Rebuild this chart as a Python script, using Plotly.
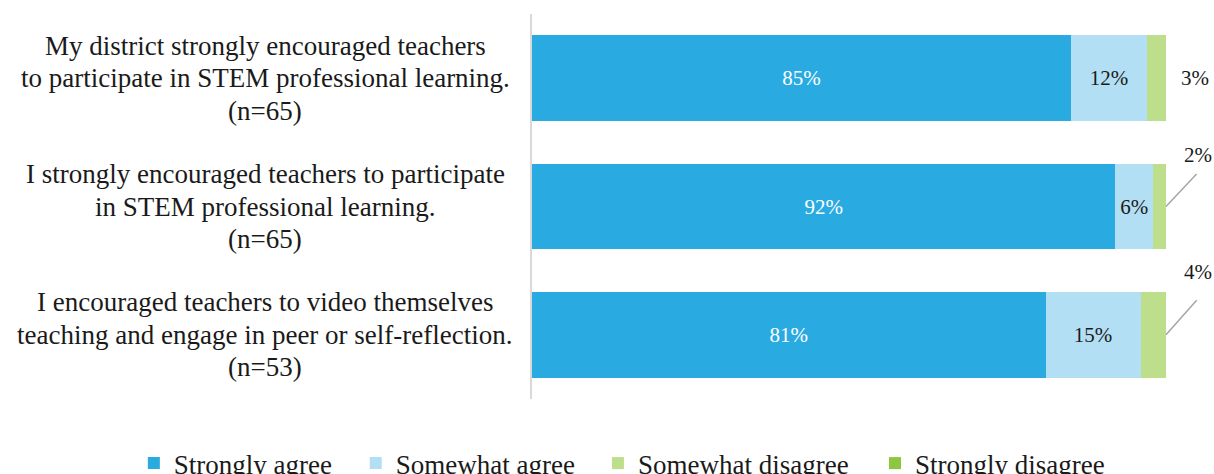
import plotly.graph_objects as go

# Survey statements (one entry per text line) and response shares (percent)
statements = [
    ["My district strongly encouraged teachers",
     "to participate in STEM professional learning.",
     "(n=65)"],
    ["I strongly encouraged teachers to participate",
     "in STEM professional learning.",
     "(n=65)"],
    ["I encouraged teachers to video themselves",
     "teaching and engage in peer or self-reflection.",
     "(n=53)"],
]
cat_ids = ["q1", "q2", "q3"]

strongly_agree = [85, 92, 81]
somewhat_agree = [12, 6, 15]
somewhat_disagree = [3, 2, 4]
strongly_disagree = [0, 0, 0]

series_names = ["Strongly agree", "Somewhat agree", "Somewhat disagree", "Strongly disagree"]
series_colors = ["#29ABE2", "#B3DFF4", "#BDDF8C", "#8DC63F"]

FONT = "Liberation Serif, Tinos, 'Times New Roman', 'DejaVu Serif', serif"
INK = "#1a1a1a"
LEADER = "#A6A6A6"

legend_ids = ["legend", "legend2", "legend3", "legend4"]

fig = go.Figure()

fig.add_trace(go.Bar(
    y=cat_ids, x=strongly_agree, orientation="h", name=series_names[0],
    marker=dict(color=series_colors[0], line=dict(width=0)),
    text=[f"{v}%" for v in strongly_agree], textposition="inside",
    insidetextanchor="middle", textangle=0,
    insidetextfont=dict(family=FONT, size=21, color="white"),
    legend=legend_ids[0],
))
fig.add_trace(go.Bar(
    y=cat_ids, x=somewhat_agree, orientation="h", name=series_names[1],
    marker=dict(color=series_colors[1], line=dict(width=0)),
    text=[f"{v}%" for v in somewhat_agree], textposition="inside",
    insidetextanchor="middle", textangle=0,
    insidetextfont=dict(family=FONT, size=21, color=INK),
    legend=legend_ids[1],
))
fig.add_trace(go.Bar(
    y=cat_ids, x=somewhat_disagree, orientation="h", name=series_names[2],
    marker=dict(color=series_colors[2], line=dict(width=0)),
    textposition="none",
    legend=legend_ids[2],
))
fig.add_trace(go.Bar(
    y=cat_ids, x=strongly_disagree, orientation="h", name=series_names[3],
    marker=dict(color=series_colors[3], line=dict(width=0)),
    textposition="none",
    legend=legend_ids[3],
))

annotations = []
# Category labels: centred lines to the left of the axis
LINE_STEP = 32.5
for cid, lines in zip(cat_ids, statements):
    mid = (len(lines) - 1) / 2
    for j, line in enumerate(lines):
        annotations.append(dict(
            xref="paper", yref="y", x=-0.421, y=cid, text=line,
            xanchor="center", yanchor="middle", showarrow=False,
            yshift=(mid - j) * LINE_STEP,
            font=dict(family=FONT, size=27, color=INK),
        ))

# "Somewhat disagree" labels outside the bar ends; thin bars get a leader line
label_offsets = [(29, 0), (32, 52), (32, 63)]     # label centre shift (px)
leader_offsets = [None, (32, -34), (32, -36)]     # leader tail (ax, ay)
for i, cid in enumerate(cat_ids):
    end = strongly_agree[i] + somewhat_agree[i] + somewhat_disagree[i]
    dx, dy = label_offsets[i]
    annotations.append(dict(
        xref="x", yref="y", x=end, y=cid, text=f"{somewhat_disagree[i]}%",
        xanchor="center", yanchor="middle", xshift=dx, yshift=dy,
        showarrow=False, font=dict(family=FONT, size=21, color=INK),
    ))
    if leader_offsets[i] is not None:
        ax, ay = leader_offsets[i]
        annotations.append(dict(
            xref="x", yref="y", x=end, y=cid, text="",
            showarrow=True, arrowhead=0, arrowwidth=1.5, arrowcolor=LEADER,
            ax=ax, ay=ay, standoff=0, startstandoff=0,
        ))

# One legend box per series, laid out in a row under the chart
legend_x = [-0.628, -0.278, 0.104, 0.541]
legend_style = dict(
    orientation="h", xanchor="left", y=-0.104, yanchor="top",
    font=dict(family=FONT, size=27, color=INK),
    itemwidth=30, bgcolor="rgba(0,0,0,0)",
)
layout_legends = {lid: dict(x=lx, **legend_style) for lid, lx in zip(legend_ids, legend_x)}

fig.update_layout(
    width=1214, height=474,
    margin=dict(l=532, r=48, t=14, b=75, autoexpand=False),
    barmode="stack", bargap=0.33,
    showlegend=True,
    plot_bgcolor="white", paper_bgcolor="white",
    font=dict(family=FONT, color=INK),
    xaxis=dict(range=[0, 100], visible=False),
    yaxis=dict(
        type="category", range=[len(cat_ids) - 0.5, -0.5],
        showticklabels=False, showgrid=False,
        showline=True, linecolor="#D9D9D9", linewidth=2, zeroline=False,
        ticks="",
    ),
    annotations=annotations,
    **layout_legends,
)

fig.write_html("out.html")
